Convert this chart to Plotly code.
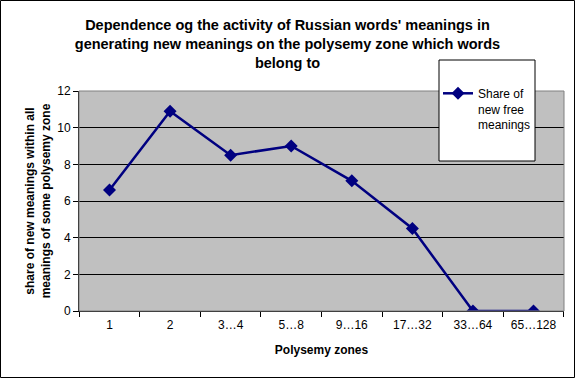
import plotly.graph_objects as go

categories = ["1", "2", "3…4", "5…8", "9…16", "17…32", "33…64", "65…128"]
share_values = [6.6, 10.9, 8.5, 9.0, 7.1, 4.5, 0.0, 0.0]
y_ticks = [0, 2, 4, 6, 8, 10, 12]

W, H = 575, 378
L, R, T, B = 79, 11, 91, 67
pw, ph = W - L - R, H - T - B

def px_x(x):
    return (x - L) / pw

def px_y(y):
    return (H - B - y) / ph

fig = go.Figure()
fig.add_trace(go.Scatter(
    x=categories, y=share_values, mode="lines+markers",
    name="Share of<br>new free<br>meanings",
    line=dict(color="#000080", width=2.5),
    marker=dict(symbol="diamond", size=10, color="#000080"),
))

font = "Liberation Sans, Arial, sans-serif"
fig.update_layout(
    width=W, height=H,
    margin=dict(l=L, r=R, t=T, b=B, autoexpand=False),
    paper_bgcolor="white", plot_bgcolor="#C0C0C0",
    font=dict(family=font, size=12, color="black"),
    title=dict(
        text="<b>Dependence og the activity of Russian words' meanings in<br>generating new meanings on the polysemy zone which words<br>belong to</b>",
        x=0.5, xanchor="center", y=0.92, yanchor="top",
        font=dict(size=14.5, family=font),
    ),
    showlegend=True,
    legend=dict(
        x=px_x(438), y=px_y(79), xanchor="left", yanchor="top",
        bgcolor="rgba(0,0,0,0)", borderwidth=0,
        font=dict(size=12), itemwidth=30, valign="top",
    ),
    xaxis=dict(
        type="category", showgrid=False, showline=True, linecolor="black",
        ticks="outside", tickson="boundaries", ticklen=5, tickcolor="black",
        tickfont=dict(size=12), ticklabelstandoff=3,
        title=dict(text="<b>Polysemy zones</b>", font=dict(size=12), standoff=14),
        mirror=False, zeroline=False,
    ),
    yaxis=dict(
        range=[0, 12], tickvals=y_ticks, showgrid=True, gridcolor="black",
        gridwidth=1, showline=True, linecolor="black", ticks="outside",
        ticklen=5, tickcolor="black", zeroline=False, tickfont=dict(size=12),
        title=dict(text="<b>share of new meanings within all<br>meanings of some polysemy zone</b>",
                   font=dict(size=12), standoff=4),
    ),
    shapes=[
        dict(type="rect", xref="paper", yref="paper", x0=0, x1=1, y0=0, y1=1,
             line=dict(color="#808080", width=1), layer="above"),
        dict(type="rect", xref="paper", yref="paper",
             x0=px_x(439), x1=px_x(535), y0=px_y(161), y1=px_y(60),
             fillcolor="white", line=dict(color="black", width=1), layer="above"),
        dict(type="rect", xref="paper", yref="paper",
             x0=px_x(0.5), x1=px_x(574.5), y0=px_y(377.5), y1=px_y(0.5),
             line=dict(color="black", width=1), layer="above"),
    ],
)

fig.write_html("out.html", config={"displayModeBar": False},
               post_script="document.body.style.margin='0';document.body.style.overflow='hidden';")
